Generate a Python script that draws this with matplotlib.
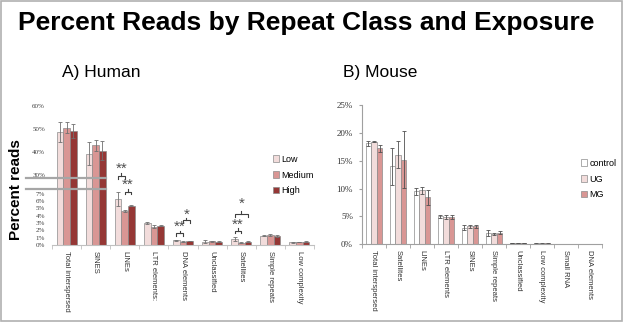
import numpy as np
import matplotlib.pyplot as plt
from matplotlib.lines import Line2D
from matplotlib.patches import Rectangle

plt.rcParams['font.family'] = ['Liberation Sans', 'DejaVu Sans']

# ---- data: human ----
human_cats = ["Total interspersed", "SINES", "LINEs", "LTR elements:", "DNA elements",
              "Unclassified", "Satellites", "Simple repeats", "Low complexity"]
human_low = [48.7, 39.2, 6.3, 3.0, 0.65, 0.45, 0.8, 1.3, 0.35]
human_med = [50.4, 42.7, 4.7, 2.5, 0.45, 0.5, 0.3, 1.35, 0.4]
human_high = [49.1, 40.5, 5.4, 2.65, 0.55, 0.45, 0.45, 1.25, 0.45]
human_low_err = [4.3, 4.8, 1.0, 0.15, 0.1, 0.2, 0.3, 0.1, 0.05]
human_med_err = [2.3, 2.5, 0.15, 0.2, 0.05, 0.05, 0.05, 0.1, 0.05]
human_high_err = [3.0, 4.3, 0.05, 0.05, 0.05, 0.05, 0.05, 0.1, 0.05]

# ---- data: mouse ----
mouse_cats = ["Total interspersed", "Satellites", "LINEs", "LTR elements", "SINEs",
              "Simple repeats", "Unclassified", "Low complexity", "Small RNA", "DNA elements"]
mouse_control = [18.1, 14.0, 9.5, 5.0, 3.0, 2.0, 0.2, 0.15, 0.05, 0.0]
mouse_ug = [18.4, 16.1, 9.7, 4.9, 3.2, 1.8, 0.2, 0.15, 0.05, 0.0]
mouse_mg = [17.2, 15.2, 8.4, 4.9, 3.2, 2.1, 0.2, 0.15, 0.05, 0.0]
mouse_control_err = [0.4, 3.3, 0.6, 0.3, 0.4, 0.6, 0.05, 0.03, 0.02, 0.0]
mouse_ug_err = [0.1, 2.4, 0.6, 0.3, 0.2, 0.2, 0.05, 0.03, 0.02, 0.0]
mouse_mg_err = [0.7, 5.1, 1.4, 0.3, 0.2, 0.3, 0.05, 0.03, 0.02, 0.0]

W, H = 623, 322
fig = plt.figure(figsize=(W / 100, H / 100), dpi=100)


def fx(px):
    return px / W


def fy(px):
    return 1 - px / H


fig.patches.append(Rectangle((0.002, 0.003), 0.996, 0.994, transform=fig.transFigure,
                             fill=False, edgecolor="#b0b0b0", lw=1.2))

fig.text(fx(306), fy(23), "Percent Reads by Repeat Class and Exposure", ha="center", va="center",
         fontsize=19, fontweight="bold")
fig.text(fx(62), fy(73), "A) Human", ha="left", va="center", fontsize=12.5)
fig.text(fx(343), fy(73), "B) Mouse", ha="left", va="center", fontsize=12.5)
fig.text(fx(16), fy(190), "Percent reads", rotation=90, ha="center", va="center",
         fontsize=11, fontweight="bold")

serif = ["Liberation Serif", "DejaVu Serif"]
edge = "#8c8c8c"
w = 0.23

# ---- human broken axis ----
ax_up = fig.add_axes([fx(52), fy(189), fx(314) - fx(52), fy(101) - fy(189)])
ax_lo = fig.add_axes([fx(52), fy(245), fx(314) - fx(52), fy(189) - fy(245)])
hc = ["#f2dcdb", "#d99694", "#953735"]
x = np.arange(len(human_cats))
for ax in (ax_up, ax_lo):
    for k, (vals, errs) in enumerate([(human_low, human_low_err), (human_med, human_med_err),
                                      (human_high, human_high_err)]):
        ax.bar(x + (k - 1) * w, vals, w, color=hc[k], edgecolor=edge, lw=0.5,
               yerr=errs, error_kw=dict(ecolor="#707070", elinewidth=0.6, capsize=1.5, capthick=0.6),
               label=["Low", "Medium", "High"][k])
    ax.set_xlim(-0.5, len(human_cats) - 0.5)
    for s in ["top", "right", "left"]:
        ax.spines[s].set_visible(False)
    ax.tick_params(axis="y", length=0, pad=5)
ax_up.set_ylim(23.8, 62)
ax_up.set_yticks([30, 40, 50, 60])
ax_up.set_yticklabels(["30%", "40%", "50%", "60%"], family=serif, fontsize=5, color="#404040")
ax_up.spines["bottom"].set_visible(False)
ax_up.set_xticks([])
ax_lo.set_ylim(0, 7.67)
ax_lo.set_yticks(range(8))
ax_lo.set_yticklabels([f"{v}%" for v in range(8)], family=serif, fontsize=5, color="#404040")
ax_lo.spines["bottom"].set_color("#c0c0c0")
ax_lo.set_xticks(x)
ax_lo.set_xticklabels(human_cats, rotation=270, fontsize=5.5, color="#333333")
ax_lo.set_xticks(np.arange(len(human_cats) + 1) - 0.5, minor=True)
ax_lo.tick_params(axis="x", which="major", length=0, pad=4)
ax_lo.tick_params(axis="x", which="minor", length=3, color="#c0c0c0")

for yy in (178, 189):
    fig.add_artist(Line2D([fx(26), fx(106)], [fy(yy), fy(yy)], color="#a6a6a6", lw=1.6))

# significance brackets (lower axis data units)
def brace(x0, x1, y, h=0.35):
    xm = (x0 + x1) / 2
    kw = dict(color="#404040", lw=0.8, clip_on=False)
    ax_lo.plot([x0, x0, x1, x1], [y - h, y, y, y - h], **kw)
    ax_lo.plot([xm, xm], [y, y + h], **kw)


def stars(xc, y, s):
    ax_lo.text(xc, y, s, ha="center", va="center", fontsize=11, color="#505050", clip_on=False)


brace(2 - w, 2, 9.45)
stars(2 - w / 2, 10.4, "**")
brace(2, 2 + w, 7.3)
stars(2 + w / 2, 8.2, "**")
brace(4 - w, 4, 1.6)
stars(4 - w / 2, 2.55, "**")
brace(4, 4 + w, 3.4)
stars(4 + w / 2, 4.15, "*")
brace(6 - w, 6, 1.95)
stars(6 - w / 2, 2.8, "**")
brace(6 - w, 6 + w, 4.25)
stars(6, 5.7, "*")

ax_lo.legend(*ax_lo.get_legend_handles_labels(), loc="center left",
             bbox_to_anchor=(fx(268), fy(175)), bbox_transform=fig.transFigure,
             frameon=False, fontsize=6.5, handlelength=0.7, handleheight=0.7,
             handletextpad=0.3, labelspacing=0.75, borderpad=0)

# ---- mouse ----
ax_m = fig.add_axes([fx(362), fy(244.3), fx(602) - fx(362), fy(105) - fy(244.3)])
mc = ["#ffffff", "#f2dcdb", "#d99694"]
xm = np.arange(len(mouse_cats))
for k, (vals, errs) in enumerate([(mouse_control, mouse_control_err), (mouse_ug, mouse_ug_err),
                                  (mouse_mg, mouse_mg_err)]):
    ax_m.bar(xm + (k - 1) * w, vals, w, color=mc[k], edgecolor=edge, lw=0.5,
             yerr=errs, error_kw=dict(ecolor="#505050", elinewidth=0.6, capsize=1.5, capthick=0.6),
             label=["control", "UG", "MG"][k])
ax_m.set_xlim(-0.5, len(mouse_cats) - 0.5)
ax_m.set_ylim(0, 25)
ax_m.set_yticks(range(0, 26, 5))
ax_m.set_yticklabels([f"{v}%" for v in range(0, 26, 5)], family=serif, fontsize=6.5, color="#333333")
for s in ["top", "right"]:
    ax_m.spines[s].set_visible(False)
for s in ["left", "bottom"]:
    ax_m.spines[s].set_color("#a0a0a0")
ax_m.tick_params(axis="y", length=2.5, color="#a0a0a0", pad=4)
ax_m.set_xticks(xm)
ax_m.set_xticklabels(mouse_cats, rotation=270, fontsize=5.5, color="#333333")
ax_m.set_xticks(np.arange(len(mouse_cats) + 1) - 0.5, minor=True)
ax_m.tick_params(axis="x", which="major", length=0, pad=4)
ax_m.tick_params(axis="x", which="minor", length=3, color="#a0a0a0")
ax_m.legend(loc="center left", bbox_to_anchor=(fx(576), fy(179)), bbox_transform=fig.transFigure,
            frameon=False, fontsize=6.5, handlelength=0.7, handleheight=0.7,
            handletextpad=0.3, labelspacing=0.75, borderpad=0)

fig.savefig("out.png", dpi=100)
